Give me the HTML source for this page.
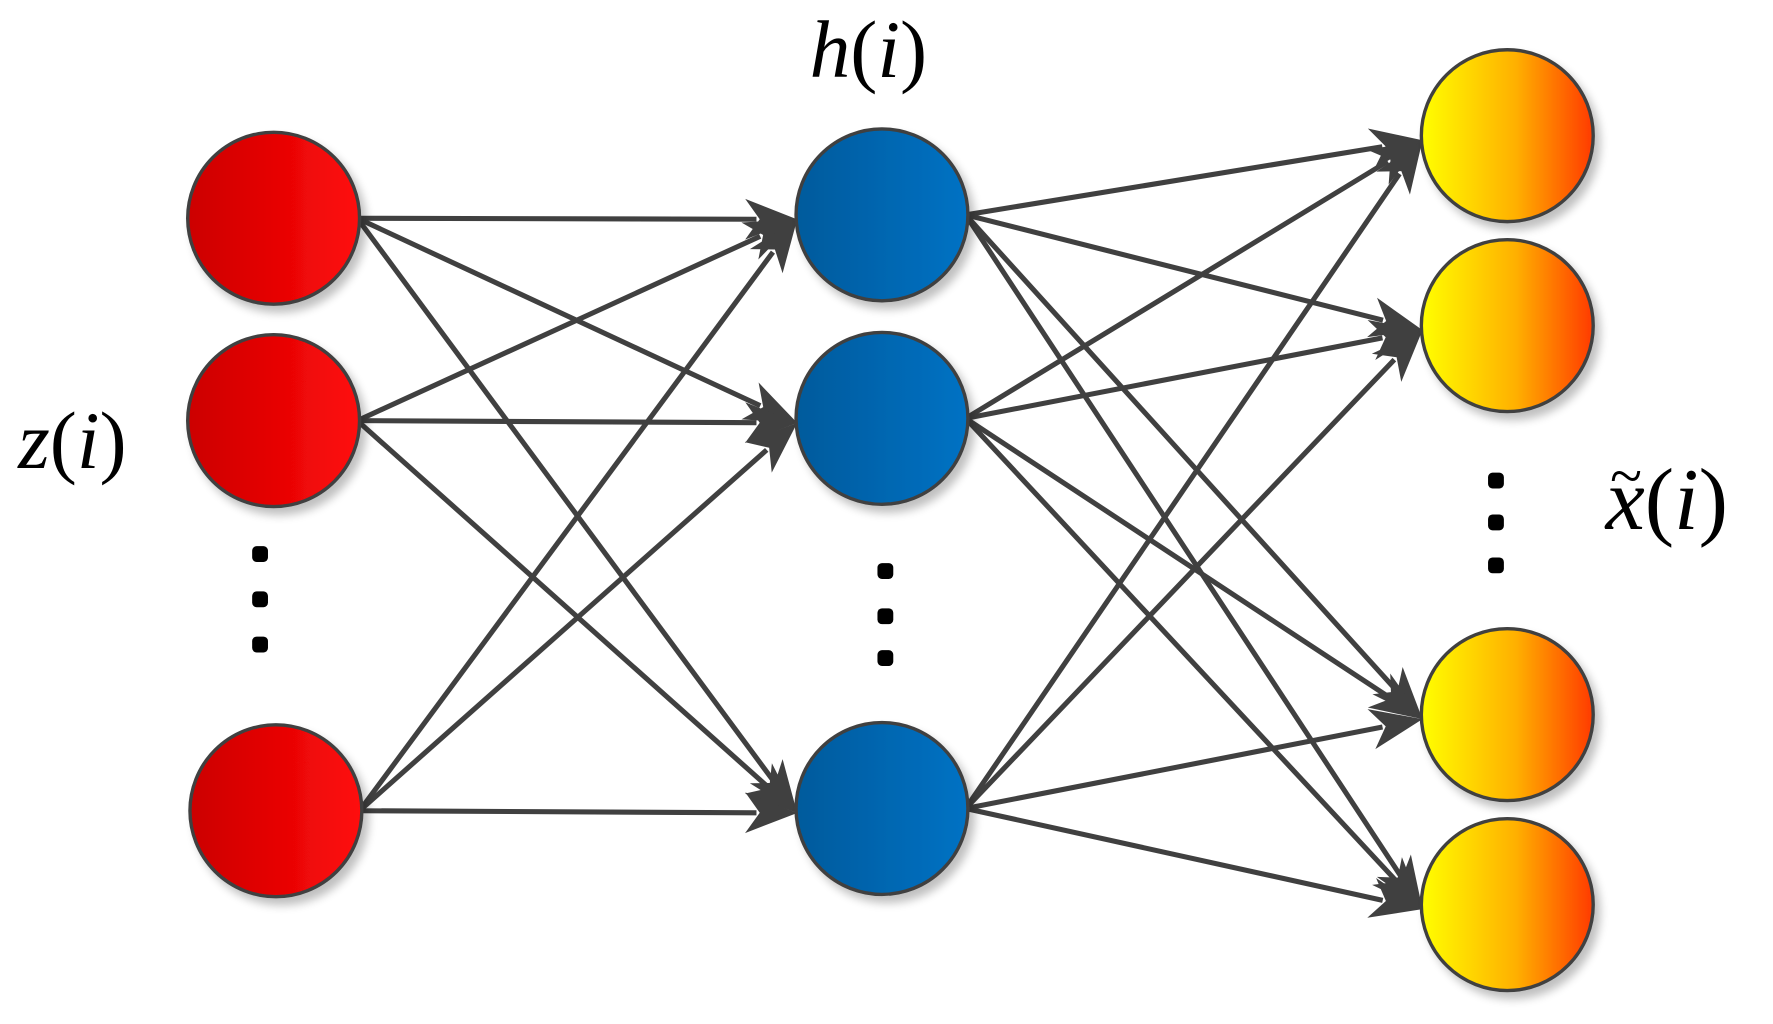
<!DOCTYPE html>
<html><head><meta charset="utf-8"><style>html,body{margin:0;padding:0;background:#fff;}svg{display:block}</style></head>
<body>
<svg id="s" width="1773" height="1024" viewBox="0 0 1568 905.6" preserveAspectRatio="none" xmlns="http://www.w3.org/2000/svg">
<defs>
<linearGradient id="gr" x1="0" x2="1"><stop offset="0" stop-color="#cc0000"/><stop offset="1" stop-color="#ff0a0a"/></linearGradient>
<linearGradient id="gb" x1="0" x2="1"><stop offset="0" stop-color="#005a9c"/><stop offset="1" stop-color="#0072c4"/></linearGradient>
<linearGradient id="gy" x1="0" x2="1"><stop offset="0" stop-color="#ffff00"/><stop offset="0.55" stop-color="#ffb000"/><stop offset="1" stop-color="#ff3a00"/></linearGradient>
<filter id="sh" x="-20%" y="-20%" width="150%" height="150%"><feGaussianBlur in="SourceAlpha" stdDeviation="4"/><feOffset dx="5" dy="6"/><feComponentTransfer><feFuncA type="linear" slope="0.25"/></feComponentTransfer><feMerge><feMergeNode/><feMergeNode in="SourceGraphic"/></feMerge></filter>
</defs>
<g id="edges"></g>
<g id="nodes"></g>
<g font-family="Liberation Serif, serif" font-style="italic" font-size="72" fill="#000">
<text x="716" y="68">h<tspan font-style="normal">(</tspan>i<tspan font-style="normal">)</tspan></text>
<text x="16" y="414">z<tspan font-style="normal">(</tspan>i<tspan font-style="normal">)</tspan></text>
<text x="1420" y="468" font-size="78">x<tspan font-style="normal">(</tspan>i<tspan font-style="normal">)</tspan></text>
<text x="1424" y="438" font-style="normal" font-size="52">~</text>
</g>
<g fill="#000">
<rect x="223" y="483" width="14" height="14" rx="4"/><rect x="223" y="523" width="14" height="14" rx="4"/><rect x="223" y="563" width="14" height="14" rx="4"/>
<rect x="776" y="498" width="14" height="14" rx="4"/><rect x="776" y="538" width="14" height="14" rx="4"/><rect x="776" y="575" width="14" height="14" rx="4"/>
<rect x="1316" y="418" width="14" height="14" rx="4"/><rect x="1316" y="455" width="14" height="14" rx="4"/><rect x="1316" y="493" width="14" height="14" rx="4"/>
</g>
</svg>
<script>
var NS="http://www.w3.org/2000/svg";
var R=[[242,193],[242,372],[244,717]],B=[[780,190],[780,370],[780,715]],Y=[[1333,120],[1333,288],[1333,632],[1333,800]];
var r=76;
var E=document.getElementById("edges"),N=document.getElementById("nodes");
function edge(a,b){
var sx=a[0]+r-2,sy=a[1],ex=b[0]-r+1,ey=b[1]+4;
var dx=ex-sx,dy=ey-sy,L=Math.hypot(dx,dy),ux=dx/L,uy=dy/L;
var hl=46,hw=18,bx=ex-ux*hl,by=ey-uy*hl,nx=-uy,ny=ux;
var l=document.createElementNS(NS,"line");l.setAttribute("x1",sx);l.setAttribute("y1",sy);l.setAttribute("x2",bx+ux*10);l.setAttribute("y2",by+uy*10);
l.setAttribute("stroke","#404040");l.setAttribute("stroke-width","4.5");E.appendChild(l);
var p=document.createElementNS(NS,"polygon");
var nx2=ex-ux*hl*0.72,ny2=ey-uy*hl*0.72;
p.setAttribute("points",ex+","+ey+" "+(bx+nx*hw)+","+(by+ny*hw)+" "+nx2+","+ny2+" "+(bx-nx*hw)+","+(by-ny*hw));
p.setAttribute("fill","#404040");E.appendChild(p);}
R.forEach(function(a){B.forEach(function(b){edge(a,b);});});
B.forEach(function(a){Y.forEach(function(b){edge(a,b);});});
function node(c,g){var e=document.createElementNS(NS,"circle");e.setAttribute("cx",c[0]);e.setAttribute("cy",c[1]);e.setAttribute("r",r);
e.setAttribute("fill","url(#"+g+")");e.setAttribute("stroke","#404040");e.setAttribute("stroke-width","3");e.setAttribute("filter","url(#sh)");N.appendChild(e);}
R.forEach(function(c){node(c,"gr");});B.forEach(function(c){node(c,"gb");});Y.forEach(function(c){node(c,"gy");});
</script>
</body></html>
